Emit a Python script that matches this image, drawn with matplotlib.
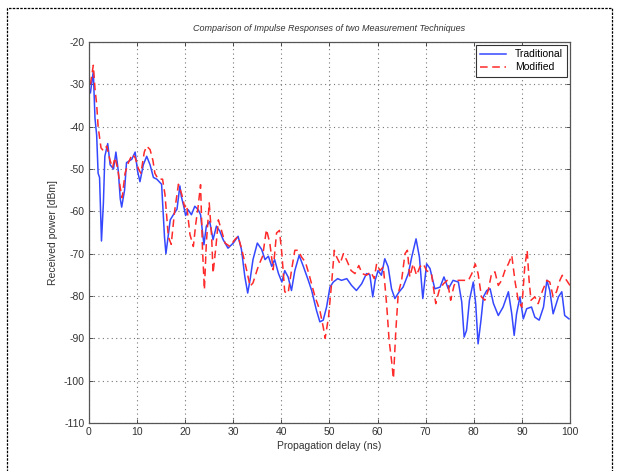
import numpy as np
import matplotlib.pyplot as plt
import matplotlib.patches as patches

# Traditional measurement (blue, solid)
t_trad = [0.3, 0.9, 1.25, 1.6, 1.9, 2.2, 2.6, 3.0, 3.3, 3.9, 4.4, 5.1, 5.6, 6.1, 6.5, 6.8, 7.4, 7.8,
          8.9, 9.6, 10.1, 10.6, 11.3, 12.0, 12.7, 13.4, 14.1, 15.1, 15.7, 16.0, 16.9, 17.6, 18.3, 18.9,
          19.2, 19.7, 20.1, 20.6, 21.3, 22.0, 22.7, 23.2, 23.9, 24.4, 25.1, 25.8, 26.5, 27.2, 27.9,
          28.9, 30.0, 31.0, 31.7, 32.4, 33.0, 33.5, 34.1, 35.0, 35.9, 36.6, 37.3, 38.0, 38.6, 39.4,
          40.1, 40.7, 41.4, 42.1, 42.8, 43.7, 44.6, 45.6, 46.3, 47.3, 48.0, 48.7, 49.4, 50.1, 50.8,
          51.7, 52.5, 53.6, 54.6, 55.6, 56.7, 57.7, 58.4, 59.0, 59.5, 60.1, 60.8, 61.5, 62.2, 62.9,
          63.6, 64.5, 65.3, 66.4, 67.1, 68.0, 68.7, 69.4, 70.2, 70.9, 71.9, 73.0, 73.8, 74.7, 75.7,
          76.8, 77.5, 78.0, 78.5, 79.1, 79.9, 80.4, 80.9, 81.5, 82.0, 82.7, 83.4, 84.1, 85.1, 86.1,
          87.2, 87.9, 88.4, 88.9, 89.6, 90.3, 91.0, 92.0, 92.7, 93.6, 94.5, 95.2, 95.8, 96.5, 97.6,
          98.3, 98.9, 99.8]
p_trad = [-32, -27, -38, -42, -51, -52, -67, -58, -47, -44, -49, -50, -46, -50.5, -57, -59, -55, -48.5,
          -47.7, -46, -50.5, -53, -49, -47, -49, -52, -52.4, -53.6, -66, -70, -62, -60.7, -59.5, -54,
          -56.5, -58.8, -61, -59.6, -60.8, -58.8, -59.6, -60.8, -67.9, -63.5, -62.4, -66.7, -63.5, -64.7, -66.7,
          -68.7, -67.5, -65.9, -69, -75.4, -79.3, -76.1, -71.4, -67.5, -69, -71.4, -70.6, -73, -71.4, -74.7,
          -76.7, -74, -75.5, -78.7, -74, -70.4, -73.1, -76.3, -78.7, -83.4, -86.1, -85.7, -82.6, -77.9, -76.7,
          -75.9, -76.3, -75.9, -77.5, -78.7, -77.1, -74.7, -75, -80.2, -76.3, -74, -75.1, -71.2, -73.1, -78.3,
          -80.6, -79, -77.9, -74.7, -70.8, -66.5, -70.8, -80.6, -72.4, -73.5, -78.3, -77.9, -75.5, -78.3, -76.3,
          -76.7, -81.4, -89.7, -88.1, -81, -76.7, -81.8, -91.3, -85.7, -80.2, -78.7, -78.3, -81.8, -84.6, -82.6,
          -79, -84.2, -89.3, -84.2, -80.2, -85.4, -83, -82.6, -85, -85.7, -82.6, -76.3, -78.7, -84.2, -80.2,
          -79, -84.6, -85.4]

# Modified measurement (red, dashed)
t_mod = [0.3, 0.9, 1.25, 1.6, 1.9, 2.5, 3.0, 3.7, 4.4, 4.9, 5.4, 6.0, 6.5, 6.9, 7.5, 8.2, 9.0, 9.6,
         10.3, 10.8, 11.5, 12.0, 12.7, 13.3, 13.7, 14.4, 15.3, 15.8, 16.5, 17.1, 17.8, 18.6, 19.3, 19.9,
         20.3, 21.0, 21.7, 22.2, 22.7, 23.2, 23.6, 24.0, 24.4, 25.0, 25.5, 25.8, 26.4, 26.9, 27.6, 28.3,
         29.3, 30.3, 31.0, 31.7, 32.6, 33.5, 34.1, 35.2, 36.1, 36.9, 37.6, 38.3, 39.0, 39.6, 40.1, 40.7,
         41.4, 42.1, 42.8, 43.5, 44.2, 45.0, 45.9, 47.0, 48.0, 48.7, 49.1, 49.8, 50.5, 51.0, 51.5, 52.2,
         52.9, 53.6, 54.5, 55.3, 56.1, 56.8, 57.7, 58.6, 59.3, 59.8, 60.5, 61.2, 61.9, 62.4, 62.9, 63.3,
         63.8, 64.3, 65.0, 65.7, 66.2, 66.7, 67.4, 68.1, 68.8, 69.5, 70.2, 71.2, 72.1, 72.8, 73.7, 74.5,
         75.2, 75.9, 76.6, 77.5, 78.5, 78.9, 79.6, 80.3, 80.9, 81.6, 82.3, 83.0, 83.7, 84.4, 85.1, 85.8,
         86.5, 87.2, 87.9, 88.6, 89.3, 90.0, 90.6, 91.1, 91.5, 91.9, 92.7, 93.4, 94.3, 95.2, 95.8, 96.5,
         97.2, 97.9, 98.4, 99.3, 100.0]
p_mod = [-30, -25.5, -31, -34.7, -40, -45, -45.7, -44.6, -48, -49.7, -47.3, -50, -54.4, -56.8, -51, -48.5, -46.5, -47.3,
         -50, -51, -46, -44.6, -45.4, -48, -51, -52.4, -52.4, -56, -66, -67.8, -60, -53.6, -56, -59,
         -58.4, -65.5, -68.3, -63, -58.8, -53.7, -69, -78.5, -67.5, -58, -65.9, -74.6, -68.3, -62, -64.7, -67.5,
         -68.3, -66.7, -65.9, -68.7, -73, -77.7, -76.9, -73, -70.6, -64.3, -67.5, -73.8, -65.1, -64.5, -70, -79,
         -79.4, -74, -69.2, -69.2, -70.8, -72, -75.5, -80.2, -83.4, -87.3, -90, -85, -76.3, -69.2, -70.8, -72.4,
         -70, -71.6, -74, -74.7, -72.8, -74.7, -75.1, -74.3, -75.9, -72.4, -74, -73.1, -82.2, -90.5, -95.2, -99.5,
         -88.1, -79.4, -76.3, -70, -69.2, -75.5, -72.4, -75.1, -73.1, -72.4, -74, -74.7, -81.8, -78.7, -77.1, -76.3,
         -81, -77.5, -76.3, -76.3, -76.3, -76.3, -74.7, -72.4, -74.7, -80.2, -81, -78.7, -74.7, -74.3, -77.5, -76.3,
         -73.9, -72.4, -70.4, -76.7, -81.4, -82.6, -73.1, -69.2, -76.3, -81, -80.2, -81.8, -78.7, -76.3, -76.7, -80.2,
         -79, -76.3, -75.1, -76.3, -77.5]

xticks = np.arange(0, 101, 10)
yticks = np.arange(-110, -19, 10)

plt.rcParams['font.family'] = ['Liberation Sans', 'DejaVu Sans']
plt.rcParams['axes.unicode_minus'] = False

fig = plt.figure(figsize=(6.2, 4.71), dpi=100)
ax = fig.add_axes([0.1435, 0.1019, 0.7758, 0.8089])

ax.plot(t_trad, p_trad, color='#3548ff', lw=1.1, label='Traditional')
ax.plot(t_mod, p_mod, color='#ff2a2a', lw=1.1, ls=(0, (5, 3)), label='Modified')

ax.set_xlim(0, 100)
ax.set_ylim(-110, -20)
ax.set_xticks(xticks)
ax.set_yticks(yticks)
ax.tick_params(direction='in', top=True, right=True, labelsize=7.5, length=3, width=0.6, pad=3,
               colors='#333333')
ax.grid(True, ls=(0, (1, 3)), color='#777777', lw=0.8)
[sp.set_linewidth(0.9) for sp in ax.spines.values()]
[sp.set_color('#555555') for sp in ax.spines.values()]

ax.set_title('Comparison of Impulse Responses of two Measurement Techniques',
             fontsize=6.5, style='italic', pad=8, color='#333333')
ax.set_xlabel('Propagation delay (ns)', fontsize=7.5, labelpad=3, color='#333333')
ax.set_ylabel('Received power [dBm]', fontsize=7.5, labelpad=4, color='#333333')

leg = ax.legend(loc='upper right', fontsize=7.5, fancybox=False, framealpha=1,
                edgecolor='#333333', handlelength=2.5, borderaxespad=0.3,
                borderpad=0.4, labelspacing=0.3)
leg.get_frame().set_linewidth(0.8)

# dashed border around the whole figure
rect = patches.Rectangle((7 / 620, -0.05), 605 / 620, 1.05 - 8 / 471,
                         transform=fig.transFigure, fill=False, ls=(0, (2, 1)),
                         lw=0.9, color='black', clip_on=False)
fig.patches.append(rect)

plt.savefig('out.png', dpi=100)
